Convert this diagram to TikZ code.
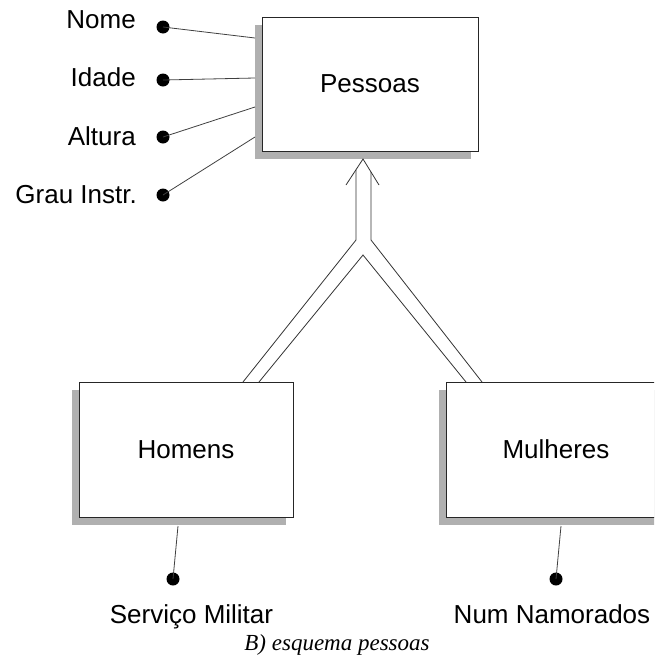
\documentclass[tikz,border=0pt]{standalone}
\usepackage{fontspec}
\setmainfont{Liberation Sans}
\newfontfamily\capfont{Liberation Serif}
\usetikzlibrary{shadows}
\begin{document}
\begin{tikzpicture}[x=1pt,y=-1pt,
  entity/.style={draw=black!85, line width=0.9pt, fill=white, inner sep=0pt,
    font=\fontsize{26}{30}\selectfont,
    drop shadow={shadow xshift=-7.5pt, shadow yshift=-7.5pt, fill=black!31, opacity=1}},
  attrdot/.style={circle, fill=black, inner sep=0pt, minimum size=13pt},
  attrtext/.style={font=\fontsize{26}{30}\selectfont, inner sep=0pt},
  link/.style={draw=black!75, line width=0.8pt},
  isa/.style={draw=black!80, line width=0.8pt}]
\useasboundingbox (0,0) rectangle (654,659);
\clip (0,0) rectangle (654,659);

% entity boxes
\node[entity, minimum width=216pt, minimum height=134pt] (pessoas) at (370,84) {Pessoas};
\node[entity, minimum width=214pt, minimum height=135pt] (homens) at (186,449.5) {Homens};
\node[entity, minimum width=220pt, minimum height=135pt] (mulheres) at (556,449.5) {Mulheres};

% attributes of Pessoas
\node[attrtext, anchor=base east] (tnome)   at (136,28)  {Nome};
\node[attrtext, anchor=base east] (tidade)  at (136,86)  {Idade};
\node[attrtext, anchor=base east] (taltura) at (136,145) {Altura};
\node[attrtext, anchor=base east] (tgrau)   at (137,203) {Grau Instr.};
\node[attrdot] (dnome)   at (163,27)  {};
\node[attrdot] (didade)  at (163,80)  {};
\node[attrdot] (daltura) at (163,137) {};
\node[attrdot] (dgrau)   at (163,195) {};
\coordinate (pnome)   at (255,38);
\coordinate (pidade)  at (255,78);
\coordinate (paltura) at (255,107);
\coordinate (pgrau)   at (255,137);
\draw[link] (dnome.center) -- (pnome);
\draw[link] (didade.center) -- (pidade);
\draw[link] (daltura.center) -- (paltura);
\draw[link] (dgrau.center) -- (pgrau);

% attributes of Homens and Mulheres
\node[attrdot] (dserv) at (173,579) {};
\node[attrdot] (dnum)  at (556,579) {};
\node[attrtext, anchor=base] (tserv) at (191.5,623) {Serviço Militar};
\node[attrtext, anchor=base] (tnum)  at (552,623) {Num Namorados};
\coordinate (hserv) at (178,526);
\coordinate (mnum)  at (561,526);
\draw[link] (dserv.center) -- (hserv);
\draw[link] (dnum.center) -- (mnum);

% generalisation: double-line Y with open arrow head into Pessoas
\coordinate (tip)  at (363,159);
\coordinate (barbL) at (346,185);
\coordinate (barbR) at (379,185);
\coordinate (jL) at (356,240);
\coordinate (jR) at (371,240);
\coordinate (jI) at (363,255);
\coordinate (hO) at (243,382);
\coordinate (hI) at (259,382);
\coordinate (mI) at (466,382);
\coordinate (mO) at (482,382);
\draw[isa] (barbL) -- (tip) -- (barbR);
\draw[isa] (356,170) -- (jL) -- (hO);
\draw[isa] (371,172) -- (jR) -- (mO);
\draw[isa] (hI) -- (jI) -- (mI);

% caption
\node[inner sep=0pt, anchor=base, font=\capfont\itshape\fontsize{23}{27}\selectfont] (cap) at (337,650) {B) esquema pessoas};
\end{tikzpicture}
\end{document}
